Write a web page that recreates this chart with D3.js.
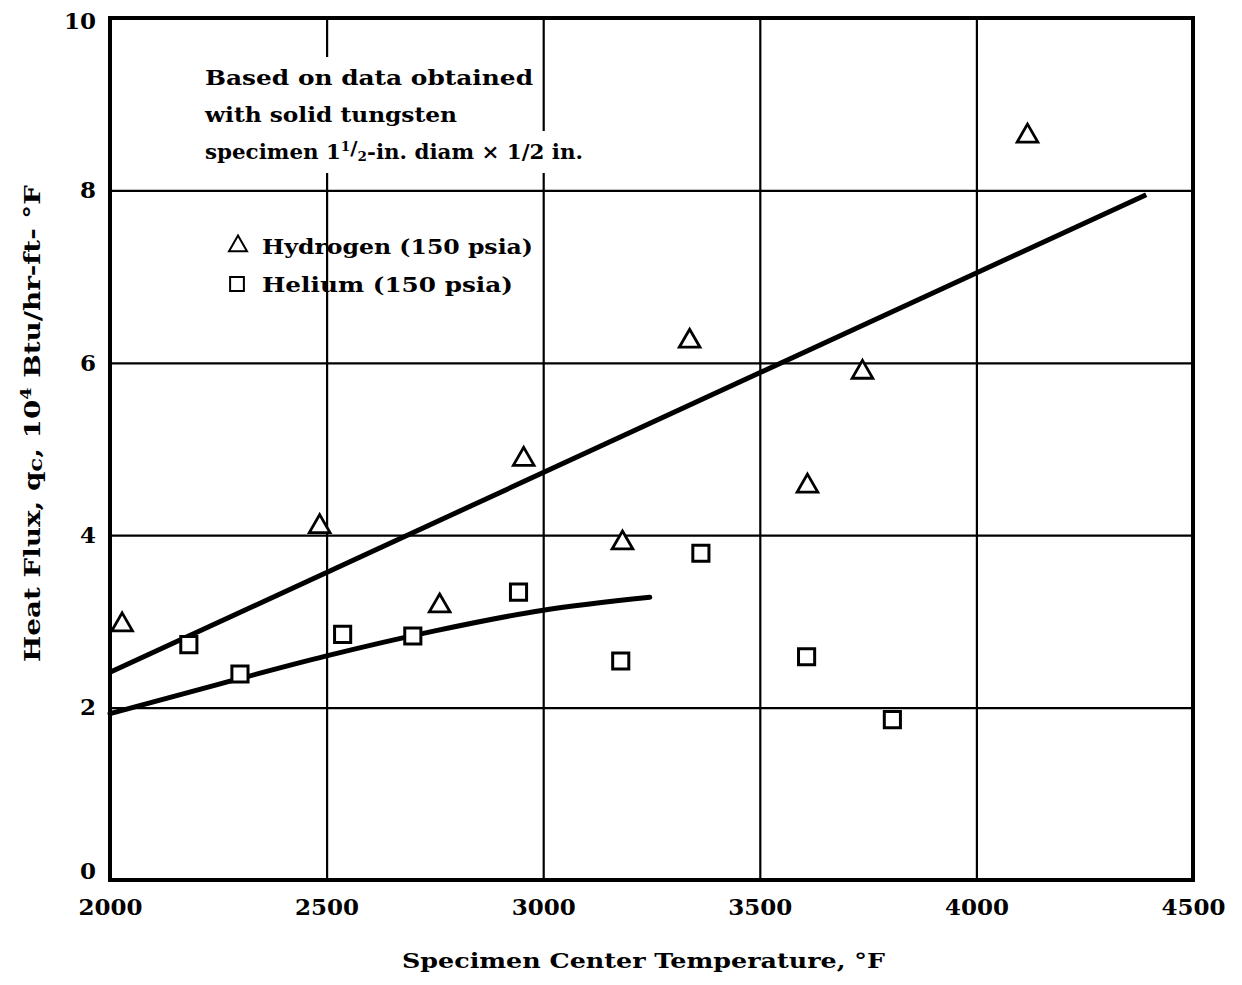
<!DOCTYPE html>
<html>
<head>
<meta charset="utf-8">
<script src="https://cdn.jsdelivr.net/npm/d3@7"></script>
<style>
  body { margin: 0; background: #fff; }
  text { font-family: "DejaVu Serif", serif; font-weight: bold; fill: #000; }
</style>
</head>
<body>
<div id="chart"></div>
<script>
// data
const hydrogenTemp = [2028, 2484, 2761, 2955, 3183, 3338, 3610, 3737, 4118];
const hydrogenFlux = [2.96, 4.10, 3.18, 4.88, 3.91, 6.25, 4.57, 5.89, 8.63];
const heliumTemp = [2182, 2300, 2537, 2699, 2943, 3179, 3364, 3608, 3806];
const heliumFlux = [2.73, 2.39, 2.85, 2.83, 3.34, 2.54, 3.79, 2.59, 1.86];
// faired curves
const hydrogenFitTemp = [2000, 4392];
const hydrogenFitFlux = [2.41, 7.95];
const heliumFitTemp = [2000, 2250, 2500, 2750, 3000, 3246];
const heliumFitFlux = [1.93, 2.27, 2.60, 2.89, 3.13, 3.28];
const xTicks = [2000, 2500, 3000, 3500, 4000, 4500];
const yTicks = [0, 2, 4, 6, 8, 10];

const W = 1242, H = 985;
const margin = {top: 18, right: 49, bottom: 105, left: 110};
const width = W - margin.left - margin.right;
const height = H - margin.top - margin.bottom;

const svg = d3.select("#chart").append("svg").attr("width", W).attr("height", H);
const g = svg.append("g").attr("transform", `translate(${margin.left},${margin.top})`);

const x = d3.scaleLinear().domain([2000, 4500]).range([0, width]);
const y = d3.scaleLinear().domain([0, 10]).range([height, 0]);

// grid
g.append("g")
    .attr("transform", `translate(0,${height})`)
    .call(d3.axisBottom(x).tickValues(xTicks.slice(1, -1)).tickSize(height).tickFormat(""))
    .call(a => a.select(".domain").remove())
    .call(a => a.selectAll(".tick line").attr("transform", `translate(0,${-height})`)
      .attr("stroke", "#000").attr("stroke-width", 2.2));
g.append("g")
    .call(d3.axisLeft(y).tickValues(yTicks.slice(1, -1)).tickSize(-width).tickFormat(""))
    .call(a => a.select(".domain").remove())
    .call(a => a.selectAll(".tick line").attr("stroke", "#000").attr("stroke-width", 2.2));

// tick labels
g.append("g")
    .attr("transform", `translate(0,${height})`)
    .call(d3.axisBottom(x).tickValues(xTicks).tickSize(0).tickPadding(19).tickFormat(d3.format("d")))
    .call(a => a.select(".domain").remove())
    .call(a => a.selectAll("text").attr("font-size", 23).attr("font-family", "DejaVu Serif").attr("font-weight", "bold"));
g.append("g")
    .call(d3.axisLeft(y).tickValues(yTicks).tickSize(0).tickPadding(14))
    .call(a => a.select(".domain").remove())
    .call(a => a.selectAll("text").attr("font-size", 23).attr("font-family", "DejaVu Serif").attr("font-weight", "bold")
      .attr("dy", d => d === 0 ? "-0.05em" : d === 10 ? "0.45em" : "0.32em"));

// annotation with white backing so the grid breaks behind it
const note = g.append("g");
const noteX = 95;
note.append("text").attr("x", noteX).attr("y", 67).attr("font-size", 20.5)
    .attr("textLength", 328).attr("lengthAdjust", "spacingAndGlyphs").text("Based on data obtained");
note.append("text").attr("x", noteX).attr("y", 104).attr("font-size", 20.5)
    .attr("textLength", 252).attr("lengthAdjust", "spacingAndGlyphs").text("with solid tungsten");
const l3 = note.append("text").attr("x", noteX).attr("y", 141).attr("font-size", 20.5)
    .attr("textLength", 378).attr("lengthAdjust", "spacingAndGlyphs");
l3.append("tspan").text("specimen 1");
l3.append("tspan").attr("font-size", 13).attr("dy", -8).text("1");
l3.append("tspan").attr("font-size", 19).attr("dy", 4).text("/");
l3.append("tspan").attr("font-size", 13).attr("dy", 6).text("2");
l3.append("tspan").attr("dy", -2).text("-in. diam \u00d7 1/2 in.");
note.selectAll("text").each(function(d, i) {
  const b = this.getBBox();
  note.insert("rect", "text")
      .attr("x", b.x - 2).attr("y", +this.getAttribute("y") - 28)
      .attr("width", b.width + 3).attr("height", i === 2 ? 42 : 37)
      .attr("fill", "#fff");
});

// legend
const legend = g.append("g");
const tri = d3.symbol().type(d3.symbolTriangle).size(140);
const sq = d3.symbol().type(d3.symbolSquare).size(190);
legend.append("path").attr("d", tri).attr("transform", "translate(128,228)")
    .attr("fill", "none").attr("stroke", "#000").attr("stroke-width", 2);
legend.append("text").attr("x", 152).attr("y", 236).attr("font-size", 21)
    .attr("textLength", 271).attr("lengthAdjust", "spacingAndGlyphs").text("Hydrogen (150 psia)");
legend.append("path").attr("d", sq).attr("transform", "translate(127,266)")
    .attr("fill", "none").attr("stroke", "#000").attr("stroke-width", 2);
legend.append("text").attr("x", 152).attr("y", 274).attr("font-size", 21)
    .attr("textLength", 251).attr("lengthAdjust", "spacingAndGlyphs").text("Helium (150 psia)");

// faired lines
const line = d3.line().x(d => x(d[0])).y(d => y(d[1]));
g.append("path")
    .attr("d", line(d3.zip(hydrogenFitTemp, hydrogenFitFlux)))
    .attr("fill", "none").attr("stroke", "#000").attr("stroke-width", 5);
g.append("path")
    .attr("d", line.curve(d3.curveMonotoneX)(d3.zip(heliumFitTemp, heliumFitFlux)))
    .attr("fill", "none").attr("stroke", "#000").attr("stroke-width", 5).attr("stroke-linecap", "round");

// data points
const triPt = d3.symbol().type(d3.symbolTriangle).size(185);
g.append("g").selectAll("path")
  .data(d3.zip(hydrogenTemp, hydrogenFlux))
  .join("path")
    .attr("d", triPt)
    .attr("transform", d => `translate(${x(d[0])},${y(d[1])})`)
    .attr("fill", "#fff").attr("stroke", "#000").attr("stroke-width", 2.8);
const sqPt = d3.symbol().type(d3.symbolSquare).size(260);
g.append("g").selectAll("path")
  .data(d3.zip(heliumTemp, heliumFlux))
  .join("path")
    .attr("d", sqPt)
    .attr("transform", d => `translate(${x(d[0])},${y(d[1])})`)
    .attr("fill", "#fff").attr("stroke", "#000").attr("stroke-width", 3);

// frame
g.append("rect").attr("width", width).attr("height", height)
    .attr("fill", "none").attr("stroke", "#000").attr("stroke-width", 4);

// axis titles
svg.append("text")
    .attr("x", 402).attr("y", 968).attr("font-size", 21)
    .attr("textLength", 483).attr("lengthAdjust", "spacingAndGlyphs")
    .text("Specimen Center Temperature, \u00b0F");
const yt = svg.append("text")
    .attr("transform", "translate(40,662) rotate(-90)")
    .attr("font-size", 22)
    .attr("textLength", 477).attr("lengthAdjust", "spacingAndGlyphs");
yt.append("tspan").text("Heat Flux, q");
yt.append("tspan").attr("font-size", 18).attr("dy", 2).text("c");
yt.append("tspan").attr("dy", -2).text(", 10");
yt.append("tspan").attr("font-size", 14).attr("dy", -9).text("4");
yt.append("tspan").attr("dy", 9).text(" Btu/hr-ft- \u00b0F");
</script>
</body>
</html>
